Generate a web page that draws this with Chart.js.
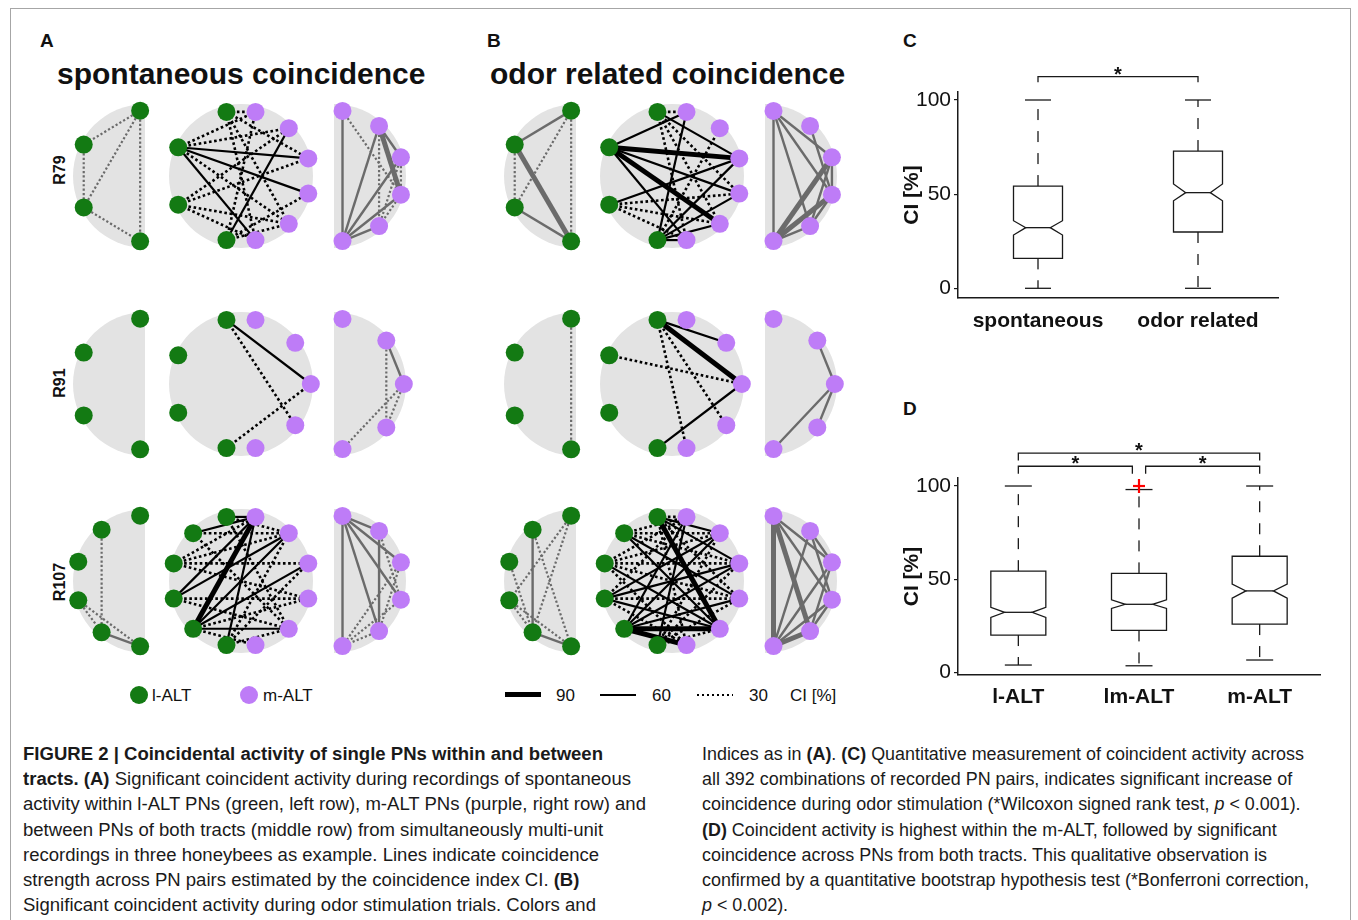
<!DOCTYPE html>
<html>
<head>
<meta charset="utf-8">
<title>Figure 2 - coincidental activity</title>
<script src="https://cdn.jsdelivr.net/npm/chart.js@4.4.1/dist/chart.umd.min.js"></script>
<style>
  body { margin:0; width:1358px; height:920px; position:relative; overflow:hidden; background:#fff;
         font-family:"Liberation Sans", Arial, Helvetica, sans-serif; color:#111; }
  canvas, .t { position:absolute; }
  .frame { position:absolute; left:10px; top:8px; width:1339px; height:1000px; border:1px solid #a6a6a6; }
  .letter { font-weight:bold; font-size:19px; line-height:19px; }
  .title { font-weight:bold; font-size:30px; line-height:30px; white-space:nowrap; }
  .row { font-weight:bold; font-size:16px; line-height:20px; width:60px; text-align:center;
         transform:translate(-50%,-50%) rotate(-90deg); }
  .leg { font-size:17px; line-height:20px; white-space:nowrap; }
  .dot { position:absolute; width:18px; height:18px; border-radius:50%; }
  .cap { position:absolute; font-size:17.5px; line-height:25px; white-space:nowrap; transform-origin:0 0; color:#1a1a1a; }
</style>
</head>
<body>
<div class="frame"></div>

<div class="t letter" style="left:40px;top:31px">A</div>
<div class="t letter" style="left:487px;top:31px">B</div>
<div class="t letter" style="left:903px;top:31px">C</div>
<div class="t letter" style="left:903px;top:399px">D</div>
<div class="t title" style="left:57px;top:59px">spontaneous coincidence</div>
<div class="t title" style="left:490px;top:59px">odor related coincidence</div>
<div class="t row" style="left:60px;top:170px">R79</div>
<div class="t row" style="left:60px;top:383px">R91</div>
<div class="t row" style="left:60px;top:582px">R107</div>

<div class="dot" style="left:130px;top:686px;background:#137a13"></div>
<div class="t leg" style="left:152px;top:686px">l-ALT</div>
<div class="dot" style="left:240px;top:686px;background:#be7cf7"></div>
<div class="t leg" style="left:263px;top:686px">m-ALT</div>
<div class="t" style="left:505px;top:692px;width:36px;height:5px;background:#000"></div>
<div class="t leg" style="left:556px;top:686px">90</div>
<div class="t" style="left:600px;top:694px;width:36px;height:2px;background:#000"></div>
<div class="t leg" style="left:652px;top:686px">60</div>
<div class="t" style="left:697px;top:694px;width:36px;height:2px;background:repeating-linear-gradient(90deg,#000 0 2px,transparent 2px 5px)"></div>
<div class="t leg" style="left:749px;top:686px">30</div>
<div class="t leg" style="left:790px;top:686px">CI [%]</div>

<div class="cap capL" style="left:23px;top:742px"><b>FIGURE 2 | Coincidental activity of single PNs within and between</b></div>
<div class="cap capL" style="left:23px;top:767px"><b>tracts. (A)</b> Significant coincident activity during recordings of spontaneous</div>
<div class="cap capL" style="left:23px;top:792px">activity within l-ALT PNs (green, left row), m-ALT PNs (purple, right row) and</div>
<div class="cap capL" style="left:23px;top:818px">between PNs of both tracts (middle row) from simultaneously multi-unit</div>
<div class="cap capL" style="left:23px;top:843px">recordings in three honeybees as example. Lines indicate coincidence</div>
<div class="cap capL" style="left:23px;top:868px">strength across PN pairs estimated by the coincidence index CI. <b>(B)</b></div>
<div class="cap capL" style="left:23px;top:893px">Significant coincident activity during odor stimulation trials. Colors and</div>

<div class="cap capR" style="left:702px;top:742px">Indices as in <b>(A)</b>. <b>(C)</b> Quantitative measurement of coincident activity across</div>
<div class="cap capR" style="left:702px;top:767px">all 392 combinations of recorded PN pairs, indicates significant increase of</div>
<div class="cap capR" style="left:702px;top:792px">coincidence during odor stimulation (*Wilcoxon signed rank test, <i>p</i> &lt; 0.001).</div>
<div class="cap capR" style="left:702px;top:818px"><b>(D)</b> Coincident activity is highest within the m-ALT, followed by significant</div>
<div class="cap capR" style="left:702px;top:843px">coincidence across PNs from both tracts. This qualitative observation is</div>
<div class="cap capR" style="left:702px;top:868px">confirmed by a quantitative bootstrap hypothesis test (*Bonferroni correction,</div>
<div class="cap capR" style="left:702px;top:893px"><i>p</i> &lt; 0.002).</div>

<script>
// ---- network data: [node, node, CI %] ; G = l-ALT PN, P = m-ALT PN ----
const bees = ["R79", "R91", "R107"];
const lAltCount = [4, 4, 6];
const mAltCount = [6, 5, 6];

// spontaneous
const spR79L = [["G0","G1",30],["G0","G2",30],["G0","G3",30],["G1","G2",30],["G2","G3",30]];
const spR79LM = [["G1","P2",62],["G1","P3",60],["G1","P5",60],["G3","P1",62],
  ["G0","P0",30],["G0","P2",30],["G0","P4",30],["G0","P5",30],["G1","P0",30],["G1","P1",30],["G1","P4",30],
  ["G2","P1",30],["G2","P2",30],["G2","P4",30],["G2","P5",30],["G3","P0",30],["G3","P3",30],["G3","P4",30]];
const spR79M = [["P0","P5",60],["P0","P3",30],["P1","P2",60],["P1","P3",85],["P1","P4",30],["P1","P5",60],
  ["P2","P3",30],["P2","P5",60],["P3","P5",60],["P4","P5",60],["P2","P4",30],["P3","P4",30]];
const spR91L = [];
const spR91LM = [["G0","P2",60],["G0","P3",30],["G3","P2",30]];
const spR91M = [["P1","P2",60],["P1","P3",30],["P2","P3",30],["P2","P4",30]];
const spR107L = [["G1","G4",30],["G3","G4",30],["G3","G5",30],["G4","G5",60]];
const spR107LM = [["G0","P0",60],["G1","P0",60],["G3","P0",60],["G5","P0",60],["G3","P1",60],["G4","P1",60],
  ["G4","P2",60],["G4","P4",60],["G4","P0",90],
  ["G0","P1",30],["G1","P1",30],["G2","P0",30],["G2","P1",30],["G2","P2",30],["G2","P3",30],["G3","P3",30],
  ["G3","P4",30],["G4","P3",30],["G4","P5",30],["G5","P1",30],["G5","P2",30],["G5","P4",30],["G0","P4",30],["G1","P4",30]];
const spR107M = [["P0","P5",60],["P0","P1",60],["P0","P2",60],["P0","P3",60],["P0","P4",60],["P1","P4",60],
  ["P1","P3",30],["P2","P4",30],["P2","P5",30],["P3","P5",30],["P4","P5",30]];

// odor related
const odR79L = [["G0","G1",60],["G0","G2",30],["G0","G3",30],["G1","G2",30],["G1","G3",85],["G2","G3",60]];
const odR79LM = [["G1","P2",90],["G1","P4",90],
  ["G1","P0",60],["G1","P3",60],["G1","P5",60],["G0","P2",60],["G3","P0",60],["G3","P2",60],["G3","P3",60],
  ["G3","P4",60],["G2","P2",60],["G3","P5",60],
  ["G0","P0",30],["G0","P3",30],["G0","P4",30],["G0","P5",30],["G2","P3",30],["G2","P4",30],["G2","P5",30],["G3","P1",30]];
const odR79M = [["P0","P5",70],["P0","P2",60],["P0","P3",60],["P0","P4",60],["P1","P3",60],["P2","P5",85],
  ["P3","P5",85],["P4","P5",60],["P2","P3",60],["P2","P4",60],["P3","P4",60]];
const odR91L = [["G0","G3",30]];
const odR91LM = [["G0","P1",60],["G0","P2",90],["G0","P3",30],["G0","P4",30],["G1","P2",30],["G3","P2",60]];
const odR91M = [["P1","P2",60],["P2","P3",60],["P2","P4",60]];
const odR107L = [["G1","G4",60],["G4","G5",60],["G0","G4",30],["G1","G5",30],["G2","G4",30],["G0","G3",30],
  ["G3","G5",30],["G3","G4",30]];
const odR107LM = [["G0","P4",90],["G4","P4",90],["G4","P5",85],
  ["G1","P3",60],["G1","P4",60],["G2","P4",60],["G3","P1",60],["G3","P2",60],["G4","P0",60],["G4","P1",60],
  ["G4","P2",60],["G4","P3",60],["G0","P2",60],["G0","P1",60],["G5","P0",60],["G3","P4",60],
  ["G0","P0",30],["G1","P0",30],["G1","P1",30],["G1","P2",30],["G2","P0",30],["G2","P1",30],["G2","P2",30],
  ["G2","P3",30],["G3","P0",30],["G3","P3",30],["G3","P5",30],["G5","P1",30],["G5","P2",30],["G5","P3",30],
  ["G5","P4",30],["G0","P3",30],["G0","P5",30],["G2","P5",30]];
const odR107M = [["P0","P5",90],["P0","P4",85],["P0","P3",60],["P0","P2",60],["P1","P2",60],["P1","P3",60],
  ["P1","P5",60],["P2","P5",60],["P3","P5",60],["P4","P5",85],["P2","P4",60],["P3","P4",60]];

// ---- box plot data (CI %) ----
const cLabels = ["spontaneous", "odor related"];
const cLow = [0, 0], cQ1 = [15.9, 29.9], cMed = [32.2, 50.8], cQ3 = [54.3, 72.9], cHigh = [100, 100];
const cNotchLo = [28.3, 46.5], cNotchHi = [35.9, 55.4];
const cBrackets = [[0, 1, 112.4]];

const dLabels = ["l-ALT", "lm-ALT", "m-ALT"];
const dLow = [3.9, 3.5, 6.6], dQ1 = [20.0, 22.5, 25.9], dMed = [32.2, 36.5, 43.7], dQ3 = [54.3, 53.1, 62.3];
const dHigh = [100, 98.1, 100];
const dNotchLo = [29.5, 34.3, 39.8], dNotchHi = [34.9, 38.9, 47.4];
const dOutliers = [[], [100], []];
const dBrackets = [[0, 2, 117.7], [0, 0.945, 110.6], [1.055, 2, 110.6]];
const yTicks = [0, 50, 100];

// ---- drawing ----
const GREEN = "#137a13", PURPLE = "#be7cf7", DISK = "#e3e3e3";
const NET_PX = 72;
const RX = 0.97, RY = 0.91;
const ARCS = { L: { G: [94, 266] }, M: { P: [83, -83] }, LM: { G: [102, 258], P: [78, -78] } };
const rowY = [176, 383.5, 580.5];
const colA = { L: 145, LM: 240.5, M: 333.5 };
const shiftB = 431;

Chart.defaults.font.family = '"Liberation Sans", Arial, sans-serif';
Chart.defaults.color = "#111";

function nodeXY(label, kind, nG, nP) {
  const grp = label[0], i = +label.slice(1);
  const n = grp === "G" ? nG : nP;
  const [a0, a1] = ARCS[kind][grp];
  const a = (a0 + (a1 - a0) * i / (n - 1)) * Math.PI / 180;
  return { x: RX * Math.cos(a), y: RY * Math.sin(a) };
}

function edgeStyle(ci, within) {
  const col = within ? "#6b6b6b" : "#000";
  if (ci >= 80) return { borderColor: col, borderWidth: 5, borderDash: [] };
  if (ci >= 50) return { borderColor: col, borderWidth: within ? 2.4 : 2.2, borderDash: [] };
  return { borderColor: col, borderWidth: within ? 2.2 : 2.6, borderDash: within ? [2.2, 2.2] : [2.6, 2.6] };
}

const diskPlugin = {
  id: "disk",
  beforeDatasetsDraw(chart, args, o) {
    const { ctx, scales: { x, y } } = chart;
    const px = x.getPixelForValue(0), py = y.getPixelForValue(0);
    const r = x.getPixelForValue(1) - px;
    ctx.save();
    ctx.fillStyle = DISK;
    ctx.beginPath();
    if (o.kind === "L") ctx.arc(px, py, r, Math.PI / 2, Math.PI * 1.5);
    else if (o.kind === "M") ctx.arc(px, py, r, -Math.PI / 2, Math.PI / 2);
    else ctx.arc(px, py, r, 0, Math.PI * 2);
    ctx.closePath();
    ctx.fill();
    ctx.restore();
  }
};

function netChart(cx, cy, kind, nG, nP, edges) {
  const cv = document.createElement("canvas");
  cv.width = 180; cv.height = 170;
  cv.style.left = (cx - 90) + "px";
  cv.style.top = (cy - 85) + "px";
  document.body.appendChild(cv);
  const within = kind !== "LM";
  const labels = [];
  if (kind !== "M") for (let i = 0; i < nG; i++) labels.push("G" + i);
  if (kind !== "L") for (let i = 0; i < nP; i++) labels.push("P" + i);
  const datasets = [{
    data: labels.map(l => nodeXY(l, kind, nG, nP)),
    pointRadius: 9, pointHoverRadius: 9, pointBorderWidth: 0,
    pointBackgroundColor: labels.map(l => l[0] === "G" ? GREEN : PURPLE)
  }];
  edges.forEach(([a, b, ci]) => {
    datasets.push(Object.assign({
      data: [nodeXY(a, kind, nG, nP), nodeXY(b, kind, nG, nP)],
      showLine: true, pointRadius: 0, borderCapStyle: "butt"
    }, edgeStyle(ci, within)));
  });
  new Chart(cv, {
    type: "scatter",
    data: { datasets },
    options: {
      responsive: false, devicePixelRatio: 1, animation: false, events: [],
      layout: { padding: 0, autoPadding: false },
      plugins: { legend: { display: false }, tooltip: { enabled: false }, disk: { kind } },
      scales: {
        x: { type: "linear", display: false, min: -90 / NET_PX, max: 90 / NET_PX },
        y: { type: "linear", display: false, min: -85 / NET_PX, max: 85 / NET_PX }
      }
    },
    plugins: [diskPlugin]
  });
}

const spont = [[spR79L, spR79LM, spR79M], [spR91L, spR91LM, spR91M], [spR107L, spR107LM, spR107M]];
const odor = [[odR79L, odR79LM, odR79M], [odR91L, odR91LM, odR91M], [odR107L, odR107LM, odR107M]];
bees.forEach((b, r) => {
  const nG = lAltCount[r], nP = mAltCount[r];
  [[spont, 0], [odor, shiftB]].forEach(([set, dx]) => {
    netChart(colA.L + dx, rowY[r], "L", nG, nP, set[r][0]);
    netChart(colA.LM + dx, rowY[r], "LM", nG, nP, set[r][1]);
    netChart(colA.M + dx, rowY[r], "M", nG, nP, set[r][2]);
  });
});

// notched box plots, drawn through the chart's scales
const boxPlugin = {
  id: "box",
  afterDatasetsDraw(chart, args, o) {
    const { ctx, scales: { x, y } } = chart;
    const Y = v => y.getPixelForValue(v);
    const seg = (x1, y1, x2, y2) => { ctx.beginPath(); ctx.moveTo(x1, y1); ctx.lineTo(x2, y2); ctx.stroke(); };
    ctx.save();
    ctx.strokeStyle = "#1a1a1a"; ctx.lineWidth = 1.3;
    o.med.forEach((m, i) => {
      const cx = x.getPixelForValue(i), h = o.half, c = o.cap, k = h / 2;
      const top = Y(o.q3[i]), bot = Y(o.q1[i]), md = Y(m), nh = Y(o.nHi[i]), nl = Y(o.nLo[i]);
      ctx.setLineDash([11, 11]);
      seg(cx, top, cx, Y(o.hi[i]));
      seg(cx, bot, cx, Y(o.lo[i]));
      ctx.setLineDash([]);
      seg(cx - c, Y(o.hi[i]), cx + c, Y(o.hi[i]));
      seg(cx - c, Y(o.lo[i]), cx + c, Y(o.lo[i]));
      ctx.beginPath();
      ctx.moveTo(cx - h, top); ctx.lineTo(cx - h, nh); ctx.lineTo(cx - h + k, md); ctx.lineTo(cx - h, nl);
      ctx.lineTo(cx - h, bot); ctx.lineTo(cx + h, bot); ctx.lineTo(cx + h, nl); ctx.lineTo(cx + h - k, md);
      ctx.lineTo(cx + h, nh); ctx.lineTo(cx + h, top); ctx.closePath(); ctx.stroke();
      seg(cx - h + k, md, cx + h - k, md);
      (o.out ? o.out[i] : []).forEach(v => {
        ctx.save(); ctx.strokeStyle = "#ff0000"; ctx.lineWidth = 2.2;
        seg(cx - 6, Y(v), cx + 6, Y(v)); seg(cx, Y(v) - 7, cx, Y(v) + 7);
        ctx.restore();
      });
    });
    ctx.font = 'bold 20px "Liberation Sans", Arial, sans-serif';
    ctx.textAlign = "center"; ctx.fillStyle = "#111";
    o.brackets.forEach(([a, b, lvl]) => {
      const xa = x.getPixelForValue(a), xb = x.getPixelForValue(b), yl = Y(lvl), yd = Y(lvl - o.drop);
      ctx.beginPath(); ctx.moveTo(xa, yd); ctx.lineTo(xa, yl); ctx.lineTo(xb, yl); ctx.lineTo(xb, yd); ctx.stroke();
      ctx.fillText("*", (xa + xb) / 2, yl + 4);
    });
    ctx.restore();
  }
};

function boxChart(left, top, w, h, cfg) {
  const cv = document.createElement("canvas");
  cv.width = w; cv.height = h;
  cv.style.left = left + "px"; cv.style.top = top + "px";
  document.body.appendChild(cv);
  new Chart(cv, {
    type: "line",
    data: { labels: cfg.labels, datasets: [{ data: cfg.box.med, showLine: false, pointRadius: 0 }] },
    options: {
      responsive: false, devicePixelRatio: 1, animation: false, events: [],
      layout: { padding: { top: cfg.padTop, right: cfg.padRight, left: 0, bottom: 0 }, autoPadding: false },
      plugins: { legend: { display: false }, tooltip: { enabled: false }, box: cfg.box },
      scales: {
        x: {
          type: "category", offset: true,
          afterFit: s => { s.height = cfg.xH; },
          grid: { display: false, drawTicks: false },
          border: { display: true, color: "#1a1a1a", width: 1.5 },
          ticks: { font: { size: 21, weight: "bold" }, color: "#111", padding: cfg.xPad, maxRotation: 0, autoSkip: false }
        },
        y: {
          min: cfg.yMin, max: cfg.yMax,
          afterBuildTicks: s => { s.ticks = yTicks.map(v => ({ value: v })); },
          afterFit: s => { s.width = 68; },
          grid: { display: true, drawOnChartArea: false, drawTicks: true, tickLength: 4, color: "#1a1a1a", lineWidth: 1.2 },
          border: { display: true, color: "#1a1a1a", width: 1.5 },
          ticks: { font: { size: 21 }, color: "#111", padding: 3 },
          title: { display: true, text: "CI [%]", font: { size: 21, weight: "bold" }, color: "#111", padding: { top: 10, bottom: 0 } }
        }
      }
    },
    plugins: [boxPlugin]
  });
}

boxChart(890, 60, 400, 290, {
  labels: cLabels, padTop: 32, padRight: 12, xH: 52, xPad: 11, yMin: -5.15, yMax: 104.25,
  box: { lo: cLow, q1: cQ1, med: cMed, q3: cQ3, hi: cHigh, nLo: cNotchLo, nHi: cNotchHi,
         half: 24.5, cap: 13, brackets: cBrackets, drop: 3 }
});
boxChart(890, 430, 440, 290, {
  labels: dLabels, padTop: 48, padRight: 10, xH: 45, xPad: 10, yMin: -1.45, yMax: 104.3,
  box: { lo: dLow, q1: dQ1, med: dMed, q3: dQ3, hi: dHigh, nLo: dNotchLo, nHi: dNotchHi, out: dOutliers,
         half: 27.5, cap: 13.5, brackets: dBrackets, drop: 4 }
});

// squeeze caption lines to the printed column width
[["capL", 580], ["capR", 602]].forEach(([cls, target]) => {
  const lines = document.querySelectorAll("." + cls);
  const f = target / lines[0].getBoundingClientRect().width;
  lines.forEach(el => { el.style.transform = "scaleX(" + f.toFixed(4) + ")"; });
});
</script>
</body>
</html>
